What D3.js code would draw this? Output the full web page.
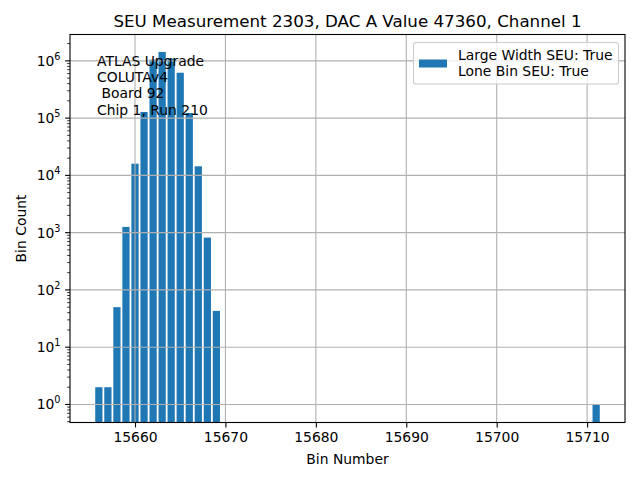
<!DOCTYPE html>
<html><head><meta charset="utf-8">
<script src="https://cdn.jsdelivr.net/npm/d3@7"></script>
<style>
html,body{margin:0;padding:0;background:#fff;}
text{font-family:"DejaVu Sans",sans-serif;fill:#000;}
</style></head>
<body><div id="chart"></div>
<script>
const bins = [15656,15657,15658,15659,15660,15661,15662,15663,15664,15665,15666,15667,15668,15669,15711];
const counts = [2,2,50,1260,16000,128000,1050000,1430000,1100000,620000,123000,14400,820,43,1];
const xTicks = [15660,15670,15680,15690,15700,15710];
const yExps = [0,1,2,3,4,5,6];
const titleText = "SEU Measurement 2303, DAC A Value 47360, Channel 1";
const annotLines = ["ATLAS Upgrade","COLUTAv4"," Board 92","Chip 1, Run 210"];
const legendLines = ["Large Width SEU: True","Lone Bin SEU: True"];

const W=640,H=480;
const L=70,R=625,T=34.5,B=422.5;
const svg=d3.select("#chart").append("svg").attr("width",W).attr("height",H);
svg.append("rect").attr("width",W).attr("height",H).attr("fill","#fff");

const x=d3.scaleLinear().domain([15652.81,15714.19]).range([L,R]);
const y=d3.scaleLog().domain([Math.pow(10,-0.315),Math.pow(10,6.46)]).range([B,T]);

const clip=svg.append("clipPath").attr("id","c").append("rect").attr("x",L).attr("y",T).attr("width",R-L).attr("height",B-T);

const g=svg.append("g").attr("clip-path","url(#c)");
g.selectAll("rect.bar").data(bins.map((b,i)=>({b,v:counts[i]}))).join("rect")
 .attr("class","bar")
 .attr("x",d=>x(d.b-0.4)).attr("width",d=>x(d.b+0.4)-x(d.b-0.4))
 .attr("y",d=>y(d.v)).attr("height",d=>B+5-y(d.v))
 .attr("fill","#1f77b4");

// grid (drawn above bars, like matplotlib default)
const grid=svg.append("g").attr("clip-path","url(#c)");
xTicks.forEach(t=>grid.append("line").attr("x1",x(t)).attr("x2",x(t)).attr("y1",T).attr("y2",B).attr("stroke","#b0b0b0").attr("stroke-width",1.1));
yExps.forEach(e=>grid.append("line").attr("x1",L).attr("x2",R).attr("y1",y(Math.pow(10,e))).attr("y2",y(Math.pow(10,e))).attr("stroke","#b0b0b0").attr("stroke-width",1.1));

// x axis
const xa=svg.append("g").attr("transform",`translate(0,${B})`)
 .call(d3.axisBottom(x).tickValues(xTicks).tickFormat(d3.format("d")).tickSize(4.9).tickPadding(4.5));
xa.select(".domain").remove();
xa.selectAll("line").attr("stroke","#000").attr("stroke-width",1.1);
xa.selectAll("text").attr("font-size","13.9px").attr("font-family","DejaVu Sans");

// y axis with minor ticks
const minor=[];
for(let e=-1;e<=6;e++){for(let k=2;k<=9;k++){const v=k*Math.pow(10,e);if(v>=y.domain()[0]&&v<=y.domain()[1])minor.push(v);}}
const ya=svg.append("g").attr("transform",`translate(${L},0)`);
ya.selectAll("line.minor").data(minor).join("line").attr("x1",0).attr("x2",-2.8).attr("y1",d=>y(d)).attr("y2",d=>y(d)).attr("stroke","#000").attr("stroke-width",0.8);
ya.selectAll("line.major").data(yExps).join("line").attr("x1",0).attr("x2",-4.9).attr("y1",d=>y(Math.pow(10,d))).attr("y2",d=>y(Math.pow(10,d))).attr("stroke","#000").attr("stroke-width",1.1);
const yl=ya.selectAll("text.yl").data(yExps).join("text").attr("class","yl")
 .attr("x",-9.5).attr("y",d=>y(Math.pow(10,d))+5).attr("text-anchor","end").attr("font-size","13.9px");
yl.append("tspan").text("10");
yl.append("tspan").attr("dy",-6).attr("font-size","9.7px").text(d=>d);

// spines
svg.append("rect").attr("x",L).attr("y",T).attr("width",R-L).attr("height",B-T).attr("fill","none").attr("stroke","#000").attr("stroke-width",1.1);

// labels
svg.append("text").attr("x",(L+R)/2).attr("y",27).attr("text-anchor","middle").attr("font-size","16.7px").text(titleText);
svg.append("text").attr("x",(L+R)/2).attr("y",464).attr("text-anchor","middle").attr("font-size","13.9px").text("Bin Number");
svg.append("text").attr("transform",`translate(26,${(T+B)/2}) rotate(-90)`).attr("text-anchor","middle").attr("font-size","13.9px").text("Bin Count");

// annotation
annotLines.forEach((s,i)=>svg.append("text").attr("x",97).attr("y",66+i*16.2).attr("font-size","13.9px").attr("xml:space","preserve").style("white-space","pre").text(s));

// legend
const lg=svg.append("g");
lg.append("rect").attr("x",413.5).attr("y",42.5).attr("width",205).attr("height",41.5).attr("rx",2.8)
 .attr("fill","#fff").attr("fill-opacity",0.8).attr("stroke","#cccccc").attr("stroke-width",1.1);
lg.append("rect").attr("x",419).attr("y",59.5).attr("width",28).attr("height",8).attr("fill","#1f77b4");
legendLines.forEach((s,i)=>lg.append("text").attr("x",458).attr("y",59.5+i*16).attr("font-size","13.9px").text(s));
</script></body></html>
